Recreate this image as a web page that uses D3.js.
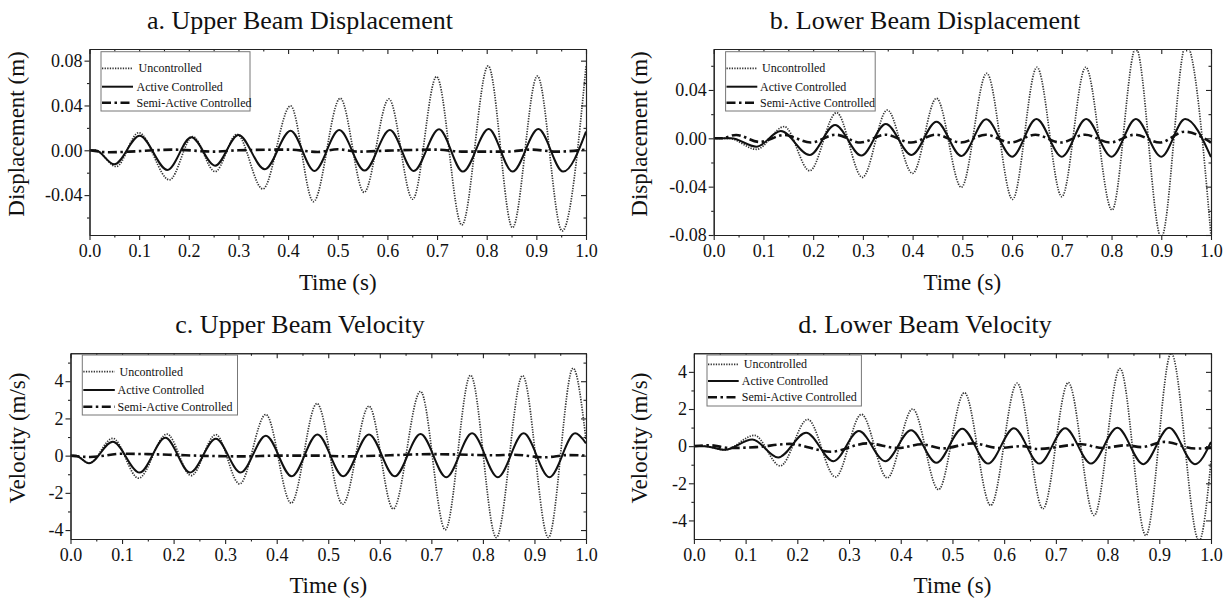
<!DOCTYPE html>
<html>
<head>
<meta charset="utf-8">
<script src="https://cdn.jsdelivr.net/npm/d3@7"></script>
<style>
  body { margin: 0; background: #fff; }
  svg text { font-family: "Liberation Serif", "Times New Roman", serif; fill: #111; }
</style>
</head>
<body>
<svg id="fig" width="1229" height="602"></svg>
<script>
// ---- axis ticks ----
const timeTicks = [0, 0.1, 0.2, 0.3, 0.4, 0.5, 0.6, 0.7, 0.8, 0.9, 1.0];
const timeMinorTicks = [0.05, 0.15, 0.25, 0.35, 0.45, 0.55, 0.65, 0.75, 0.85, 0.95];
const upperDispTicks = [-0.04, 0, 0.04, 0.08];
const lowerDispTicks = [-0.08, -0.04, 0, 0.04];
const dispMinorTicks = [-0.06, -0.02, 0.02, 0.06];
const velTicks = [-4, -2, 0, 2, 4];
const upperVelMinorTicks = [-3, -1, 1, 3, 5];
const lowerVelMinorTicks = [-3, -1, 1, 3];

const legendLabels = ["Uncontrolled", "Active Controlled", "Semi-Active Controlled"];

// ---- series: [time (s), value] at turning points ----
// a. upper beam displacement (m)
const upperDispUncontrolled = [[0,0],[0.012,0],[0.054,-0.0145],[0.099,0.0157],[0.161,-0.0264],[0.208,0.0122],[0.253,-0.019],[0.297,0.0143],[0.349,-0.0345],[0.405,0.0396],[0.451,-0.0458],[0.505,0.0464],[0.553,-0.0375],[0.603,0.0458],[0.651,-0.0437],[0.699,0.0657],[0.750,-0.0666],[0.803,0.0753],[0.852,-0.069],[0.902,0.0663],[0.952,-0.072],[1.0,0.075]];
const upperDispActive = [[0,0],[0.012,0],[0.05,-0.0125],[0.101,0.013],[0.157,-0.0175],[0.205,0.0116],[0.253,-0.0137],[0.30,0.0137],[0.353,-0.017],[0.405,0.0175],[0.453,-0.0184],[0.503,0.018],[0.554,-0.018],[0.605,0.018],[0.653,-0.0184],[0.704,0.0187],[0.752,-0.019],[0.804,0.019],[0.852,-0.019],[0.904,0.019],[0.954,-0.019],[1.0,0.0167]];
const upperDispSemiActive = [[0,0],[0.04,-0.0018],[0.08,-0.0012],[0.13,0],[0.17,0.0006],[0.25,-0.0012],[0.30,0],[0.40,0.0006],[0.46,-0.0015],[0.50,0.0009],[0.54,-0.0012],[0.60,-0.0003],[0.70,0.0006],[0.75,-0.0012],[0.84,-0.0012],[0.89,0.0006],[0.94,-0.0012],[1.0,0.0006]];

// b. lower beam displacement (m)
const lowerDispUncontrolled = [[0,0],[0.03,0],[0.086,-0.0091],[0.142,0.0097],[0.193,-0.0268],[0.247,0.0212],[0.299,-0.0323],[0.349,0.0234],[0.40,-0.029],[0.448,0.0331],[0.498,-0.0405],[0.549,0.0538],[0.601,-0.0505],[0.65,0.0588],[0.70,-0.0483],[0.748,0.0588],[0.801,-0.0593],[0.849,0.075],[0.90,-0.082],[0.95,0.078],[1.0,-0.081]];
const lowerDispActive = [[0,0],[0.035,0],[0.086,-0.0069],[0.135,0.006],[0.193,-0.0138],[0.244,0.011],[0.297,-0.0143],[0.346,0.0119],[0.398,-0.0138],[0.448,0.0138],[0.498,-0.0146],[0.548,0.0157],[0.60,-0.0152],[0.649,0.016],[0.70,-0.0152],[0.749,0.016],[0.80,-0.0152],[0.849,0.016],[0.90,-0.0152],[0.948,0.016],[1.0,-0.0155]];
const lowerDispSemiActive = [[0,0],[0.015,0],[0.045,0.0028],[0.092,-0.003],[0.142,0.0028],[0.195,-0.0035],[0.245,0.003],[0.295,-0.0035],[0.345,0.003],[0.397,-0.0035],[0.447,0.003],[0.497,-0.0035],[0.547,0.003],[0.597,-0.0035],[0.647,0.003],[0.697,-0.0035],[0.747,0.003],[0.797,-0.0035],[0.847,0.003],[0.897,-0.0035],[0.947,0.0055],[1.0,-0.0035]];

// c. upper beam velocity (m/s)
const upperVelUncontrolled = [[0,0],[0.01,0],[0.036,-0.41],[0.082,0.93],[0.132,-1.21],[0.187,1.16],[0.234,-1.07],[0.282,1.13],[0.328,-1.52],[0.379,2.21],[0.428,-2.55],[0.478,2.80],[0.528,-2.61],[0.579,2.66],[0.626,-2.86],[0.679,3.45],[0.727,-3.98],[0.776,4.32],[0.826,-4.4],[0.877,4.30],[0.927,-4.4],[0.975,4.70],[1.0,0.84]];
const upperVelActive = [[0,0],[0.01,0],[0.036,-0.41],[0.082,0.75],[0.134,-0.91],[0.184,0.96],[0.232,-0.91],[0.282,0.91],[0.33,-0.91],[0.379,1.07],[0.429,-1.11],[0.479,1.14],[0.529,-1.11],[0.579,1.14],[0.629,-1.11],[0.679,1.16],[0.729,-1.16],[0.779,1.2],[0.829,-1.16],[0.879,1.2],[0.929,-1.16],[0.979,1.2],[1.0,0.66]];
const upperVelSemiActive = [[0,0],[0.038,-0.07],[0.1,0.1],[0.15,0.08],[0.2,0.04],[0.258,-0.01],[0.336,-0.04],[0.40,0],[0.475,0],[0.54,-0.04],[0.62,0.02],[0.70,0.08],[0.77,0.05],[0.82,0.02],[0.86,0.05],[0.92,-0.09],[0.965,0.03],[1.0,0]];

// d. lower beam velocity (m/s)
const lowerVelUncontrolled = [[0,0],[0.02,0],[0.06,-0.2],[0.117,0.58],[0.167,-1.06],[0.22,1.44],[0.274,-1.66],[0.324,1.71],[0.374,-1.71],[0.423,2.0],[0.473,-2.34],[0.523,2.88],[0.574,-3.19],[0.625,3.39],[0.675,-3.37],[0.724,3.42],[0.774,-3.73],[0.824,4.18],[0.874,-4.81],[0.923,5.0],[0.977,-5.1],[1.0,-0.8]];
const lowerVelActive = [[0,0],[0.02,0],[0.06,-0.2],[0.113,0.36],[0.163,-0.61],[0.217,0.72],[0.27,-0.81],[0.319,0.81],[0.37,-0.81],[0.42,0.86],[0.469,-0.9],[0.519,0.94],[0.569,-0.94],[0.619,0.97],[0.668,-0.94],[0.718,0.97],[0.768,-0.94],[0.819,0.99],[0.869,-0.97],[0.919,0.99],[0.969,-0.97],[1.0,0.23]];
const lowerVelSemiActive = [[0,0],[0.03,0.05],[0.07,-0.1],[0.12,-0.05],[0.185,0.12],[0.265,-0.3],[0.335,0.15],[0.395,-0.1],[0.44,0.1],[0.48,-0.12],[0.54,0.15],[0.59,-0.1],[0.635,0],[0.665,-0.15],[0.75,0.1],[0.79,-0.1],[0.835,0.05],[0.865,-0.05],[0.91,0.23],[0.97,-0.13],[1.0,-0.1]];

// ---- line styles for the three cases ----
const seriesStyles = [
  { stroke: "#333", width: 1.7, dash: "1.3,1.3" },
  { stroke: "#111", width: 2.0, dash: null },
  { stroke: "#111", width: 2.6, dash: "9,3.5,2.5,3.5" }
];

// ---- panel layout ----
const panels = [
  { id: "a", title: "a. Upper Beam Displacement", titleX: 300, titleY: 29,
    left: 89.5, right: 586, top: 49, bottom: 235, yDomain: [-0.0756, 0.0904],
    yTicks: upperDispTicks, yMinor: dispMinorTicks, yFmt: d => d.toFixed(2),
    yLabel: "Displacement (m)", yLabelX: 24, yLabelY: 134, xLabelY: 290,
    series: [upperDispUncontrolled, upperDispActive, upperDispSemiActive],
    legend: { x: 101, y: 51.7, w: 149, h: 59.3, rows: [16.6, 35, 51], lineX0: 102, lineX1: 133, textX: 136.5 } },
  { id: "b", title: "b. Lower Beam Displacement", titleX: 925, titleY: 29,
    left: 713.7, right: 1211, top: 49, bottom: 235, yDomain: [-0.08, 0.0739],
    yTicks: lowerDispTicks, yMinor: dispMinorTicks, yFmt: d => d.toFixed(2),
    yLabel: "Displacement (m)", yLabelX: 647, yLabelY: 134, xLabelY: 290,
    series: [lowerDispUncontrolled, lowerDispActive, lowerDispSemiActive],
    legend: { x: 725.6, y: 51.7, w: 149.6, h: 59.3, rows: [16.6, 35, 51], lineX0: 726.5, lineX1: 757.3, textX: 760 } },
  { id: "c", title: "c. Upper Beam Velocity", titleX: 300, titleY: 333,
    left: 70.5, right: 586, top: 353.3, bottom: 539, yDomain: [-4.48, 5.5],
    yTicks: velTicks, yMinor: upperVelMinorTicks, yFmt: d => String(d),
    yLabel: "Velocity (m/s)", yLabelX: 25, yLabelY: 438, xLabelY: 593,
    series: [upperVelUncontrolled, upperVelActive, upperVelSemiActive],
    legend: { x: 82.3, y: 355, w: 155.2, h: 60, rows: [16.7, 35, 51.7], lineX0: 83.3, lineX1: 114.8, textX: 117.6 } },
  { id: "d", title: "d. Lower Beam Velocity", titleX: 925, titleY: 333,
    left: 693.9, right: 1211, top: 353.3, bottom: 539, yDomain: [-5, 5],
    yTicks: velTicks, yMinor: lowerVelMinorTicks, yFmt: d => String(d),
    yLabel: "Velocity (m/s)", yLabelX: 647, yLabelY: 438, xLabelY: 593,
    series: [lowerVelUncontrolled, lowerVelActive, lowerVelSemiActive],
    legend: { x: 707, y: 355, w: 154.4, h: 51, rows: [9.3, 26, 42.3], lineX0: 708, lineX1: 738.7, textX: 741.8 } }
];

const svg = d3.select("#fig");
const axisColor = "#222";
const tickFont = 18;

function styleAxis(sel) {
  sel.attr("font-family", "Liberation Serif, Times New Roman, serif")
     .attr("font-size", tickFont)
     .style("color", axisColor);
  sel.selectAll("path.domain").attr("stroke-width", 1.1);
  sel.selectAll(".tick line").attr("stroke-width", 1.1);
  sel.selectAll(".tick text").style("fill", "#111");
}

panels.forEach(p => {
  const g = svg.append("g").attr("class", "panel-" + p.id);
  const x = d3.scaleLinear().domain([0, 1]).range([p.left, p.right]);
  const y = d3.scaleLinear().domain(p.yDomain).range([p.bottom, p.top]);

  // plot-area clip
  g.append("clipPath").attr("id", "clip-" + p.id)
    .append("rect").attr("x", p.left).attr("y", p.top)
    .attr("width", p.right - p.left).attr("height", p.bottom - p.top);

  const line = d3.line().x(d => x(d[0])).y(d => y(d[1])).curve(d3.curveMonotoneX);

  const lines = g.append("g").attr("clip-path", `url(#clip-${p.id})`);
  p.series.forEach((s, i) => {
    const st = seriesStyles[i];
    lines.append("path").datum(s)
      .attr("d", line)
      .attr("fill", "none")
      .attr("stroke", st.stroke)
      .attr("stroke-width", st.width)
      .attr("stroke-dasharray", st.dash)
      .attr("stroke-linejoin", "round");
  });

  // bottom axis: major labelled ticks + minor ticks
  g.append("g").attr("transform", `translate(0,${p.bottom})`)
    .call(d3.axisBottom(x).tickValues(timeTicks).tickSize(5).tickSizeOuter(0).tickPadding(4).tickFormat(d => d.toFixed(1)))
    .call(styleAxis);
  g.append("g").attr("transform", `translate(0,${p.bottom})`)
    .call(d3.axisBottom(x).tickValues(timeMinorTicks).tickSize(2.5).tickSizeOuter(0).tickFormat(""))
    .call(styleAxis);
  // top axis: inward ticks
  g.append("g").attr("transform", `translate(0,${p.top})`)
    .call(d3.axisTop(x).tickValues(timeTicks).tickSize(-5).tickSizeOuter(0).tickFormat(""))
    .call(styleAxis);
  g.append("g").attr("transform", `translate(0,${p.top})`)
    .call(d3.axisTop(x).tickValues(timeMinorTicks).tickSize(-2.5).tickSizeOuter(0).tickFormat(""))
    .call(styleAxis);
  // left axis
  g.append("g").attr("transform", `translate(${p.left},0)`)
    .call(d3.axisLeft(y).tickValues(p.yTicks).tickSize(5).tickSizeOuter(0).tickPadding(2).tickFormat(p.yFmt))
    .call(styleAxis);
  g.append("g").attr("transform", `translate(${p.left},0)`)
    .call(d3.axisLeft(y).tickValues(p.yMinor).tickSize(2.5).tickSizeOuter(0).tickFormat(""))
    .call(styleAxis);
  // right axis: inward ticks
  g.append("g").attr("transform", `translate(${p.right},0)`)
    .call(d3.axisRight(y).tickValues(p.yTicks).tickSize(-5).tickSizeOuter(0).tickFormat(""))
    .call(styleAxis);
  g.append("g").attr("transform", `translate(${p.right},0)`)
    .call(d3.axisRight(y).tickValues(p.yMinor).tickSize(-2.5).tickSizeOuter(0).tickFormat(""))
    .call(styleAxis);

  // titles and axis labels
  g.append("text").attr("x", p.titleX).attr("y", p.titleY)
    .attr("text-anchor", "middle").attr("font-size", 26).text(p.title);
  g.append("text").attr("x", (p.left + p.right) / 2).attr("y", p.xLabelY)
    .attr("text-anchor", "middle").attr("font-size", 23).text("Time (s)");
  g.append("text")
    .attr("transform", `translate(${p.yLabelX},${p.yLabelY}) rotate(-90)`)
    .attr("text-anchor", "middle").attr("font-size", 23).text(p.yLabel);

  // legend
  const L = p.legend;
  const lg = g.append("g");
  lg.append("rect").attr("x", L.x).attr("y", L.y).attr("width", L.w).attr("height", L.h)
    .attr("fill", "#fff").attr("stroke", "#777").attr("stroke-width", 1);
  legendLabels.forEach((lab, i) => {
    const st = seriesStyles[i];
    const yy = L.y + L.rows[i];
    lg.append("line").attr("x1", L.lineX0).attr("x2", L.lineX1).attr("y1", yy).attr("y2", yy)
      .attr("stroke", st.stroke).attr("stroke-width", st.width).attr("stroke-dasharray", st.dash);
    lg.append("text").attr("x", L.textX + (i === 0 ? 2 : 0)).attr("y", yy + 4)
      .attr("font-size", 12).text(lab);
  });
});
</script>
</body>
</html>
